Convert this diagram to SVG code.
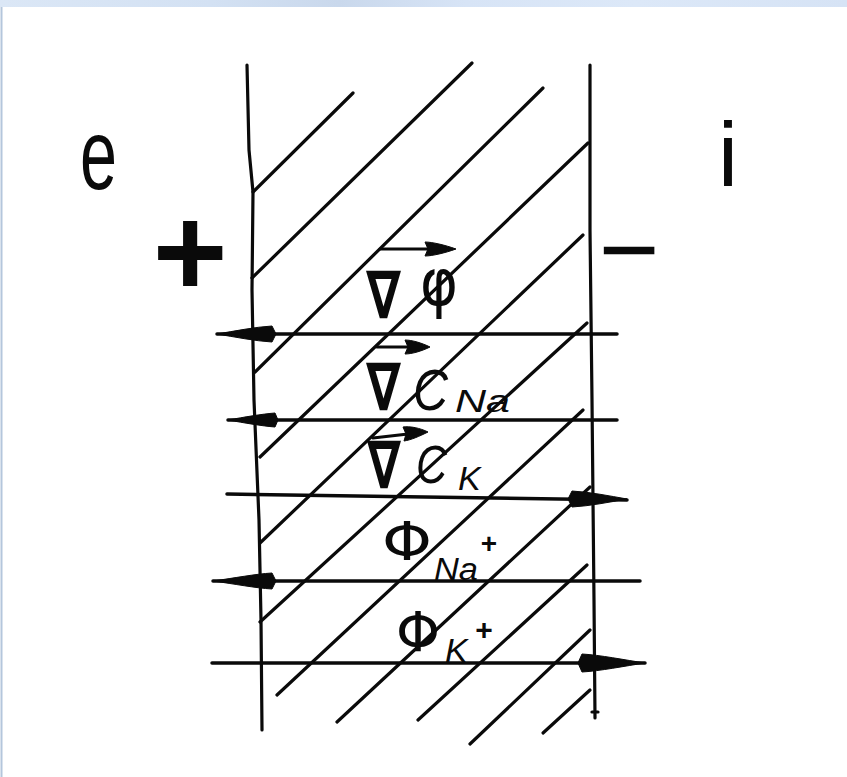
<svg xmlns="http://www.w3.org/2000/svg" width="847" height="777" viewBox="0 0 847 777">
<defs>
<linearGradient id="bar" x1="0" y1="0" x2="1" y2="0">
<stop offset="0" stop-color="#dbe7f6"/>
<stop offset="0.25" stop-color="#d3e1f3"/>
<stop offset="0.4" stop-color="#c9d8ec"/>
<stop offset="0.55" stop-color="#d7e4f6"/>
<stop offset="0.75" stop-color="#dce8f8"/>
<stop offset="1" stop-color="#d6e3f5"/>
</linearGradient>
</defs>
<style>
.ln{stroke:#0a0a0a;stroke-width:3.2;stroke-linecap:round;stroke-linejoin:round;fill:none}
.hl{stroke:#0a0a0a;stroke-width:3.5;stroke-linecap:round;fill:none}
.hd{fill:#0a0a0a;stroke:#0a0a0a;stroke-width:1;stroke-linejoin:round}
.t{font-family:"Liberation Sans",Arial,sans-serif;fill:#0a0a0a}
.m{font-family:"DejaVu Sans","Liberation Sans",sans-serif;fill:#0a0a0a}
.it{font-style:italic}
</style>
<rect x="0" y="0" width="847" height="777" fill="#ffffff"/>
<rect x="0" y="0" width="847" height="7" fill="url(#bar)"/>
<line x1="1.5" y1="7" x2="1.5" y2="777" stroke="#b4c6dc" stroke-width="2"/>

<g id="membrane">
<polyline class="ln" points="247,65 249,150 253,192 252,290 254,400 259,520 261,620 262,730"/>
<polyline class="ln" points="590,65 590,230 592,400 594,600 595,718"/>
<line class="ln" x1="592" y1="712" x2="598" y2="712" stroke-width="2"/>
</g>

<g id="hatching">
<line class="ln" x1="253" y1="192" x2="353" y2="93"/>
<line class="ln" x1="252" y1="278" x2="472" y2="63"/>
<line class="ln" x1="255" y1="372" x2="543" y2="88"/>
<line class="ln" x1="260" y1="457" x2="588" y2="143"/>
<line class="ln" x1="260" y1="543" x2="583" y2="235"/>
<line class="ln" x1="260" y1="622" x2="587" y2="323"/>
<line class="ln" x1="277" y1="695" x2="583" y2="410"/>
<line class="ln" x1="337" y1="722" x2="590" y2="487"/>
<line class="ln" x1="418" y1="720" x2="587" y2="565"/>
<line class="ln" x1="470" y1="744" x2="590" y2="630"/>
<line class="ln" x1="543" y1="733" x2="590" y2="690"/>
</g>

<g id="connectors">
<g id="flux-grad-phi">
<line class="hl" x1="217" y1="334" x2="617" y2="334"/>
<path class="hd" d="M217,334 C235,331 255,327 272,326 L276,334 L272,342 C255,341 235,337 217,334 Z"/>
</g>
<g id="flux-grad-cNa">
<line class="hl" x1="228" y1="420" x2="617" y2="420"/>
<path class="hd" d="M228,420 C245,417 262,414 275,413 L278,420 L275,427 C262,426 245,423 228,420 Z"/>
</g>
<g id="flux-grad-cK">
<line class="hl" x1="227" y1="494" x2="627" y2="500"/>
<path class="hd" d="M627,499 C610,496 590,492 572,491 L568,499 L572,507 C590,506 610,502 627,499 Z"/>
</g>
<g id="flux-Na">
<line class="hl" x1="213" y1="581" x2="640" y2="581"/>
<path class="hd" d="M213,581 C235,578 255,574 272,573 L276,581 L272,589 C255,588 235,584 213,581 Z"/>
</g>
<g id="flux-K">
<line class="hl" x1="212" y1="663" x2="645" y2="663"/>
<path class="hd" d="M645,663 C625,660 600,655 582,654 L578,663 L582,672 C600,671 625,666 645,663 Z"/>
</g>
<g id="vec-arrows">
<line class="ln" x1="380" y1="249" x2="432" y2="249"/>
<path class="hd" d="M456,249 C445,245 432,242 425,242 L428,249 L425,256 C432,256 445,253 456,249 Z"/>
<line class="ln" x1="377" y1="347" x2="410" y2="347"/>
<path class="hd" d="M430,347 C422,343 412,340 405,340 L408,347 L405,354 C412,354 422,351 430,347 Z"/>
<line class="ln" x1="373" y1="438" x2="408" y2="434"/>
<path class="hd" d="M428,432 C420,428 410,426 403,427 L406,434 L404,441 C411,440 420,436 428,432 Z"/>
</g>
</g>

<g id="side-labels">
<text id="label-e" class="t" x="80" y="189" font-size="100" textLength="37" lengthAdjust="spacingAndGlyphs">e</text>
<text id="label-i" class="t" x="728" y="186" font-size="90" text-anchor="middle">i</text>
<text id="label-plus" class="t" x="190" y="296" font-size="128" font-weight="bold" text-anchor="middle">+</text>
<text id="label-minus" class="t" x="629" y="285" font-size="104" text-anchor="middle">−</text>
</g>

<g id="label-grad-phi">
<text class="m" x="366" y="318" font-size="66" font-weight="bold" textLength="35" lengthAdjust="spacingAndGlyphs">∇</text>
<text class="m" x="420" y="305" font-size="66" textLength="38" lengthAdjust="spacingAndGlyphs">φ</text>
</g>
<g id="label-grad-cNa">
<text class="m" x="366" y="410" font-size="66" font-weight="bold" textLength="35" lengthAdjust="spacingAndGlyphs">∇</text>
<text class="t it" x="413" y="410" font-size="58" textLength="35" lengthAdjust="spacingAndGlyphs">C</text>
<text class="t it" x="455" y="412" font-size="31" textLength="55" lengthAdjust="spacingAndGlyphs">Na</text>
</g>
<g id="label-grad-cK">
<text class="m" x="367" y="488" font-size="66" font-weight="bold" textLength="34" lengthAdjust="spacingAndGlyphs">∇</text>
<text class="t it" x="416" y="483" font-size="54" textLength="31" lengthAdjust="spacingAndGlyphs">C</text>
<text class="t it" x="458" y="490" font-size="34">K</text>
</g>
<g id="label-flux-Na">
<text class="m" x="382" y="560" font-size="54" textLength="50" lengthAdjust="spacingAndGlyphs">Φ</text>
<text class="t it" x="434" y="580" font-size="31" textLength="44" lengthAdjust="spacingAndGlyphs">Na</text>
<text class="t" x="489" y="553" font-size="28" font-weight="bold" text-anchor="middle">+</text>
</g>
<g id="label-flux-K">
<text class="m" x="396" y="651" font-size="56" textLength="44" lengthAdjust="spacingAndGlyphs">Φ</text>
<text class="t it" x="445" y="662" font-size="34">K</text>
<text class="t" x="484" y="640" font-size="30" font-weight="bold" text-anchor="middle">+</text>
</g>
</svg>
